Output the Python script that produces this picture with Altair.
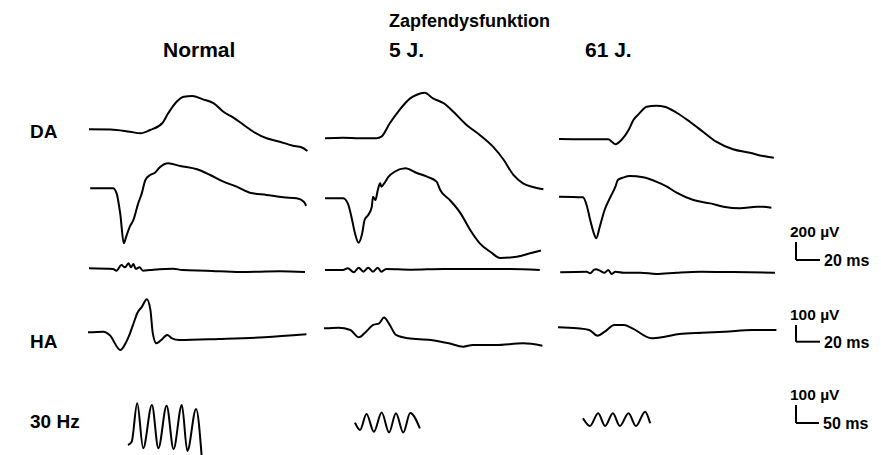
import altair as alt
import pandas as pd

# ---------------- data: time (ms) and amplitude (µV) ----------------
# DA, first trace (combined response)
DA1_N_T = [0, 18, 34, 43, 51, 61, 66, 73, 79, 86, 95, 104, 112, 120, 129, 137, 148, 159, 170, 177, 182]
DA1_N_V = [0, -2, -27, -44, -8, 67, 178, 306, 362, 369, 333, 289, 195, 133, 48, -27, -100, -138, -182, -200, -241]
DA1_5_T = [0, 15, 29, 43, 47, 54, 62, 71, 76, 83, 90, 99, 107, 118, 129, 140, 149, 157, 165, 174, 182]
DA1_5_V = [0, 7, 0, 0, 18, 167, 314, 444, 481, 506, 444, 389, 295, 148, 37, -93, -241, -407, -500, -544, -566]
DA1_61_T = [0, 20, 41, 44, 47, 52, 58, 62, 67, 73, 81, 88, 98, 109, 120, 131, 145, 159, 170, 179]
DA1_61_V = [2, -1, -1, -28, -57, -9, 102, 213, 287, 361, 372, 361, 294, 194, 83, -28, -112, -150, -187, -206]

# DA, second trace (bright flash)
DA2_N_T = [1, 20, 23, 26, 29, 31, 34, 37, 41, 44, 47, 51, 55, 59, 66, 76, 90, 101, 112, 123, 134, 148, 162, 173, 179, 181]
DA2_N_V = [0, 0, -56, -278, -611, -537, -426, -352, -167, -56, 92, 148, 173, 233, 278, 248, 211, 148, 74, 18, -49, -74, -100, -111, -149, -196]
DA2_5_T = [0, 15, 19, 22, 25, 28, 31, 33, 36, 39, 40, 42, 44, 46, 47, 49, 53, 58, 67, 76, 85, 93, 96, 104, 113, 121, 129, 138, 146, 160, 171, 180]
DA2_5_V = [0, 0, -56, -204, -389, -493, -389, -241, -186, -93, 18, -19, 92, 167, 129, 159, 240, 295, 333, 284, 240, 185, 92, -19, -167, -352, -500, -597, -663, -649, -611, -580]
DA2_61_T = [0, 20, 23, 26, 29, 31, 34, 38, 43, 47, 49, 54, 59, 70, 81, 90, 98, 112, 126, 137, 151, 165, 170, 177]
DA2_61_V = [0, -7, -92, -259, -406, -462, -333, -148, 0, 111, 185, 215, 229, 215, 167, 111, 44, -37, -74, -111, -129, -111, -111, -122]

# DA, oscillatory potentials
OP_N_T = [0, 20, 23, 27, 30, 33, 35, 37, 39, 42, 45, 51, 70, 78, 98, 126, 159, 180]
OP_N_V = [2, -6, -24, 39, 13, 58, 13, 50, -6, 13, -24, -17, -2, -17, -24, -39, -31, -39]
OP_5_T = [0, 15, 19, 24, 28, 32, 36, 40, 44, 47, 51, 71, 99, 126, 154, 179]
OP_5_V = [0, 0, 19, -26, 26, -19, 26, -19, 26, -19, 11, 3, 11, 11, 11, 0]
OP_61_T = [1, 23, 26, 29, 31, 34, 38, 41, 44, 47, 54, 68, 81, 98, 118, 145, 180]
OP_61_V = [0, 7, -11, 26, 33, 18, -4, 26, -19, 7, -4, -4, -19, -4, 7, 3, -4]

# HA (photopic single flash)
HA_N_T = [0, 13, 18, 27, 32, 35, 38, 41, 45, 49, 52, 54, 57, 61, 66, 70, 76, 109, 147, 182]
HA_N_V = [0, 4, -16, -106, -56, -6, 54, 114, 154, 198, 134, -6, -66, -46, -16, -36, -46, -40, -30, -12]
HA_5_T = [0, 12, 22, 29, 35, 41, 46, 50, 54, 60, 70, 89, 104, 116, 124, 143, 166, 182]
HA_5_V = [0, 4, -10, -54, -20, 20, 30, 64, 30, -40, -60, -70, -90, -110, -100, -100, -90, -104]
HA_61_T = [0, 16, 26, 33, 39, 47, 55, 62, 78, 89, 101, 120, 139, 162, 182]
HA_61_V = [0, -6, -16, -50, -26, 14, 14, -6, -66, -56, -40, -32, -26, -16, -16]

# 30 Hz flicker
FL_N_T = [0, 8, 20, 33, 52, 66, 84, 99, 117, 129, 148, 160]
FL_N_V = [0, 18, 232, -18, 222, -18, 218, -22, 222, -33, 200, -56]
FL_5_T = [0, 11, 25, 41, 58, 74, 89, 105, 120, 141]
FL_5_V = [0, -40, 48, -50, 56, -54, 52, -54, 54, -31]
FL_61_T = [0, 15, 33, 48, 65, 80, 99, 115, 135, 146]
FL_61_V = [0, -43, 28, -43, 28, -43, 28, -43, 37, -28]

COLUMNS = ["Normal", "5 J.", "61 J."]
GROUP_TITLE = "Zapfendysfunktion"
ROW_LABELS = ["DA", "HA", "30 Hz"]
SCALE_UV = [200, 100, 100]
SCALE_MS = [20, 20, 50]

TRACES = {
    ("DA1", 0): (DA1_N_T, DA1_N_V), ("DA1", 1): (DA1_5_T, DA1_5_V), ("DA1", 2): (DA1_61_T, DA1_61_V),
    ("DA2", 0): (DA2_N_T, DA2_N_V), ("DA2", 1): (DA2_5_T, DA2_5_V), ("DA2", 2): (DA2_61_T, DA2_61_V),
    ("OP", 0): (OP_N_T, OP_N_V), ("OP", 1): (OP_5_T, OP_5_V), ("OP", 2): (OP_61_T, OP_61_V),
    ("HA", 0): (HA_N_T, HA_N_V), ("HA", 1): (HA_5_T, HA_5_V), ("HA", 2): (HA_61_T, HA_61_V),
    ("FL", 0): (FL_N_T, FL_N_V), ("FL", 1): (FL_5_T, FL_5_V), ("FL", 2): (FL_61_T, FL_61_V),
}

# ---------------- layout (figure units) ----------------
GAIN = {  # (units per ms, units per µV)
    "DA1": (1.2, 0.09), "DA2": (1.2, 0.09), "OP": (1.2, 0.09),
    "HA": (1.2, 0.167), "FL": (0.46, 0.18),
}
X0 = {
    "DA1": [89, 325, 559], "DA2": [89, 325, 559], "OP": [89, 325, 559],
    "HA": [88, 324, 558], "FL": [128, 355, 583],
}
BASE = {
    "DA1": [129.3, 138.3, 139.2], "DA2": [188.3, 198.3, 196.7], "OP": [268.5, 270, 272.3],
    "HA": [332.3, 328.3, 327.3], "FL": [445, 422.7, 418.3],
}

rows = []
for (row, col), (ts, vs) in TRACES.items():
    tg, vg = GAIN[row]
    for i, (t, v) in enumerate(zip(ts, vs)):
        rows.append({"trace": f"{row}-{col}", "i": i,
                     "X": X0[row][col] + t * tg, "Y": BASE[row][col] - v * vg})
df = pd.DataFrame(rows)

XS = alt.Scale(domain=[8, 873])
YS = alt.Scale(domain=[8, 447], reverse=True)

lines = alt.Chart(df).mark_line(
    color="black", strokeWidth=2, strokeJoin="round", interpolate="monotone"
).encode(
    x=alt.X("X:Q", scale=XS, axis=None),
    y=alt.Y("Y:Q", scale=YS, axis=None),
    detail="trace:N",
    order="i:Q",
)

# scale bars
BAR_CORNER = [(796, 260, "DA1"), (796, 341.7, "HA"), (796, 423, "FL")]
bars = []
for (cx, cy, row), uv, ms in zip(BAR_CORNER, SCALE_UV, SCALE_MS):
    tg, vg = GAIN[row]
    bars.append({"x": cx, "y": cy, "x2": cx, "y2": cy - uv * vg})
    bars.append({"x": cx, "y": cy, "x2": cx + ms * tg, "y2": cy})
bars_df = pd.DataFrame(bars)
bar_layer = alt.Chart(bars_df).mark_rule(color="black", strokeWidth=2).encode(
    x=alt.X("x:Q", scale=XS, axis=None), y=alt.Y("y:Q", scale=YS, axis=None),
    x2="x2:Q", y2="y2:Q",
)

# texts
texts = [
    {"t": GROUP_TITLE, "x": 389, "y": 27, "s": 18},
    {"t": COLUMNS[0], "x": 163, "y": 57, "s": 21},
    {"t": COLUMNS[1], "x": 389, "y": 57, "s": 21},
    {"t": COLUMNS[2], "x": 585, "y": 57, "s": 21},
    {"t": ROW_LABELS[0], "x": 30, "y": 138, "s": 19},
    {"t": ROW_LABELS[1], "x": 30, "y": 348, "s": 19},
    {"t": ROW_LABELS[2], "x": 30, "y": 428, "s": 19},
]
for (cx, cy, row), uv, ms in zip(BAR_CORNER, SCALE_UV, SCALE_MS):
    tg, vg = GAIN[row]
    texts.append({"t": f"{uv} µV", "x": cx - 6, "y": cy - uv * vg - 5, "s": 15.5})
    texts.append({"t": f"{ms} ms", "x": cx + ms * tg + 4, "y": cy + 6, "s": 16})
text_df = pd.DataFrame(texts)
text_layer = alt.Chart(text_df).mark_text(
    align="left", baseline="alphabetic", fontWeight="bold", font="Liberation Sans", color="black"
).encode(
    x=alt.X("x:Q", scale=XS, axis=None), y=alt.Y("y:Q", scale=YS, axis=None),
    text="t:N", size=alt.Size("s:Q", scale=None, legend=None),
)

chart = alt.layer(lines, bar_layer, text_layer).properties(
    width=865, height=439, padding=0, background="white"
).configure_view(stroke=None)

chart.save("out.html", embed_options={"renderer": "svg", "actions": False})
